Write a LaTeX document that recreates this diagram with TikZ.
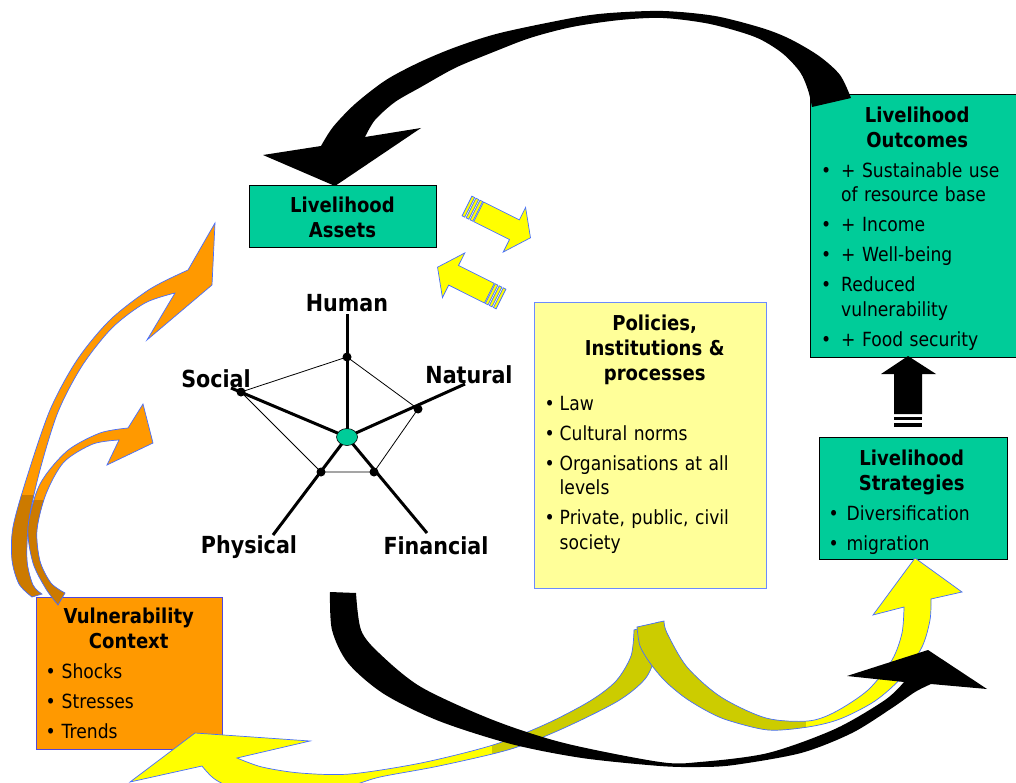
\documentclass[tikz,border=0pt]{standalone}
\usepackage{fontspec}
\setmainfont{DejaVu Sans}[FakeStretch=0.88]
\usetikzlibrary{positioning, shapes.geometric}

\definecolor{lhteal}{RGB}{0,204,153}
\definecolor{lhcream}{RGB}{255,255,153}
\definecolor{lhorange}{RGB}{255,153,0}
\definecolor{lhbrown}{RGB}{204,122,0}
\definecolor{lhyellow}{RGB}{255,255,0}
\definecolor{lholive}{RGB}{204,204,0}
\definecolor{lhblue}{RGB}{70,110,255}
\definecolor{lhpurple}{RGB}{80,70,220}

\newlength{\bulw}
\newcommand{\bitem}[1]{\par\noindent\hangindent=\bulw\hangafter=1\makebox[\bulw][l]{\textbullet}#1}
\newcommand{\boxtitle}[1]{{\centering\fontsize{20.5}{25}\selectfont\bfseries #1\par}}

\begin{document}
\begin{tikzpicture}[
    x=1pt, y=-1pt,
    tbox/.style={draw, line width=1pt, fill=lhteal},
    txt/.style={inner sep=0pt, align=left, font=\fontsize{19.5}{24.5}\selectfont},
    lab/.style={anchor=base, inner sep=0pt, font=\fontsize{23.5}{28}\selectfont\bfseries},
    pdot/.style={circle, fill=black, inner sep=0pt, minimum size=9pt},
    spoke/.style={line width=3pt},
    rim/.style={line width=0.8pt},
    ribbon/.style={draw=lhblue, line width=0.7pt},
]
\useasboundingbox (0,0) rectangle (1016,783);

% Boxes
\node[tbox, minimum width=187pt, minimum height=62pt, align=center,
      font=\fontsize{20.5}{25}\selectfont\bfseries] (assets) at (342.5,217) {Livelihood\\Assets};

\node[tbox, minimum width=206pt, minimum height=262pt] (outc) at (913.5,226) {};
\node[txt, text width=192pt, below right=12pt and 11pt of outc.north west] (outcT) {%
  \setlength{\bulw}{20pt}\setlength{\parskip}{5.5pt}%
  \boxtitle{Livelihood\\Outcomes}%
  \bitem{+ Sustainable use\newline of resource base}
  \bitem{+ Income}
  \bitem{+ Well-being}
  \bitem{Reduced\newline vulnerability}
  \bitem{+ Food security}\par};

\node[draw=lhblue!80, line width=1pt, fill=lhcream, minimum width=232pt, minimum height=286pt] (pol) at (650,445) {};
\node[txt, text width=220pt, below right=13pt and 11pt of pol.north west] (polT) {%
  \setlength{\bulw}{15pt}\setlength{\parskip}{5.5pt}%
  \boxtitle{Policies,\\Institutions \&\\processes}%
  \bitem{Law}
  \bitem{Cultural norms}
  \bitem{Organisations at all\newline levels}
  \bitem{Private, public, civil\newline society}\par};

\node[tbox, minimum width=188pt, minimum height=122pt] (strat) at (913,498) {};
\node[txt, text width=166pt, below right=13pt and 10pt of strat.north west] (stratT) {%
  \setlength{\bulw}{18pt}\setlength{\parskip}{5.5pt}%
  \boxtitle{Livelihood\\Strategies}%
  \bitem{Diversification}
  \bitem{migration}\par};

\node[draw=lhpurple, line width=1pt, fill=lhorange, minimum width=186pt, minimum height=152pt] (vuln) at (129,673) {};
\node[txt, text width=166pt, below right=11pt and 10pt of vuln.north west] (vulnT) {%
  \setlength{\bulw}{16pt}\setlength{\parskip}{5.5pt}%
  \boxtitle{Vulnerability\\Context}%
  \bitem{Shocks}
  \bitem{Stresses}
  \bitem{Trends}\par};

% Asset pentagon
\coordinate (hubP) at (347,437);
\coordinate (hum) at (347,357);
\coordinate (nat) at (418,409);
\coordinate (fin) at (374,472);
\coordinate (phy) at (321,472);
\coordinate (soc) at (241,392);
\coordinate (humE) at (347,314);
\coordinate (natE) at (465,384);
\coordinate (finE) at (427,533);
\coordinate (phyE) at (273,535);
\coordinate (socE) at (231,388);

\draw[rim] (hum) -- (nat) -- (fin) -- (phy) -- (soc) -- cycle;
\foreach \e in {humE, natE, finE, phyE, socE}
  \draw[spoke] (hubP) -- (\e);
\foreach \p in {hum, nat, fin, phy, soc}
  \node[pdot] at (\p) {};
\node[draw, ellipse, fill=lhteal, inner sep=0pt, line width=0.6pt,
      minimum width=21pt, minimum height=17pt] (hub) at (hubP) {};

\node[lab] (humL) at (347,312) {Human};
\node[lab] (socL) at (216,387) {Social};
\node[lab] (natL) at (469,383) {Natural};
\node[lab] (phyL) at (249,553) {Physical};
\node[lab] (finL) at (436,554) {Financial};

% Small yellow arrows between assets and policies
\foreach \tx/\ty/\ang in {467/206/-26.6, 501/299/153.4} {
  \begin{scope}[shift={(\tx,\ty)}, rotate=\ang]
    \filldraw[ribbon, fill=lhyellow] (13,-11) -- (53,-11) -- (53,-25) -- (71,0)
      -- (53,25) -- (53,11) -- (13,11) -- cycle;
    \foreach \s in {0, 4.5, 9}
      \filldraw[ribbon, fill=lhyellow] (\s,-11) rectangle (\s+3,11);
  \end{scope}
}

% Block arrow strategies -> outcomes
\fill (894,414) -- (894,374) -- (881,374) -- (908,356) -- (936,374) -- (922,374) -- (922,414) -- cycle;
\fill (894,417) rectangle (922,420);
\fill (894,423) rectangle (922,427);

% Orange arrows from vulnerability context
\filldraw[ribbon, fill=lhorange, path picture={\fill[lhbrown] (0,495) rectangle (120,620);}]
  plot[smooth] coordinates {(32,597) (19,584) (12,560) (13,527) (27,477) (50,410) (77,360) (110,320) (150,289) (188,270)}
  -- (215,223) -- (212,285) -- (147,340) -- (175,293)
  -- plot[smooth] coordinates {(175,293) (145,303) (112,328) (82,366) (58,412) (40,470) (29,520) (27,560) (33,585) (42,594)}
  -- cycle;
\filldraw[ribbon, fill=lhorange, path picture={\fill[lhbrown] (0,500) rectangle (120,620);}]
  plot[smooth] coordinates {(58,605) (46,589) (33,563) (28,527) (40,484) (67,451) (100,433) (128,428)}
  -- (143,404) -- (153,443) -- (107,465) -- (119,440)
  -- plot[smooth] coordinates {(119,440) (93,444) (64,462) (46,494) (37,530) (40,561) (51,583) (65,593)}
  -- cycle;

% Yellow ribbons below policies
\filldraw[ribbon, fill=lhyellow, path picture={\fill[lholive] (492,600) rectangle (700,800);}]
  plot[smooth] coordinates {(634,630) (631,656) (616,681) (590,701) (546,724) (493,745) (421,763) (350,774) (300,773) (262,767) (237,758)}
  -- (310,741) -- (195,733) -- (130,782) -- (202,766)
  -- plot[smooth] coordinates {(202,766) (216,780) (245,792) (300,796) (350,786) (380,777) (439,766) (511,749) (564,728) (618,701) (645,679) (655,656) (659,622)}
  -- cycle;
\filldraw[ribbon, fill=lhyellow, path picture={\fill[lholive] (600,600) rectangle (806,790);}]
  plot[smooth] coordinates {(637,627) (640,646) (650,663) (665,681) (684,697) (705,710) (727,720) (768,730) (808,727) (840,719) (875,701) (902,677) (922,647) (930,620) (931,599)}
  -- (962,592) -- (915,558) -- (873,615) -- (904,607)
  -- plot[smooth] coordinates {(904,607) (902,633) (892,660) (868,690) (835,712) (808,721) (766,718) (721,697) (687,667) (667,633) (664,621)}
  -- cycle;

% Black cycle arrows
\fill plot[smooth] coordinates {(851,98) (840,75) (819,56) (790,39) (762,28) (715,16) (663,11) (610,13) (572,18) (500,33) (456,47) (420,62) (386,80) (355,104) (333,127) (321,146)}
  -- (263,155) -- (335,186) -- (421,128) -- (365,137)
  -- plot[smooth] coordinates {(365,137) (375,120) (395,102) (421,87) (455,68) (491,53) (530,38) (572,27) (620,20) (663,18) (710,24) (755,37) (782,53) (800,72) (808,90) (812,107)}
  -- cycle;
\fill plot[smooth] coordinates {(330,592) (332,630) (348,663) (384,694) (439,721) (511,744) (582,758) (660,766) (700,767) (734,765) (801,753) (852,733) (892,708) (915,692) (931,684)}
  -- (987,689) -- (928,650) -- (847,676) -- (904,682)
  -- plot[smooth] coordinates {(904,682) (885,700) (835,729) (768,753) (700,762) (660,762) (564,743) (493,720) (421,687) (379,653) (361,630) (356,593)}
  -- cycle;

\end{tikzpicture}
\end{document}
